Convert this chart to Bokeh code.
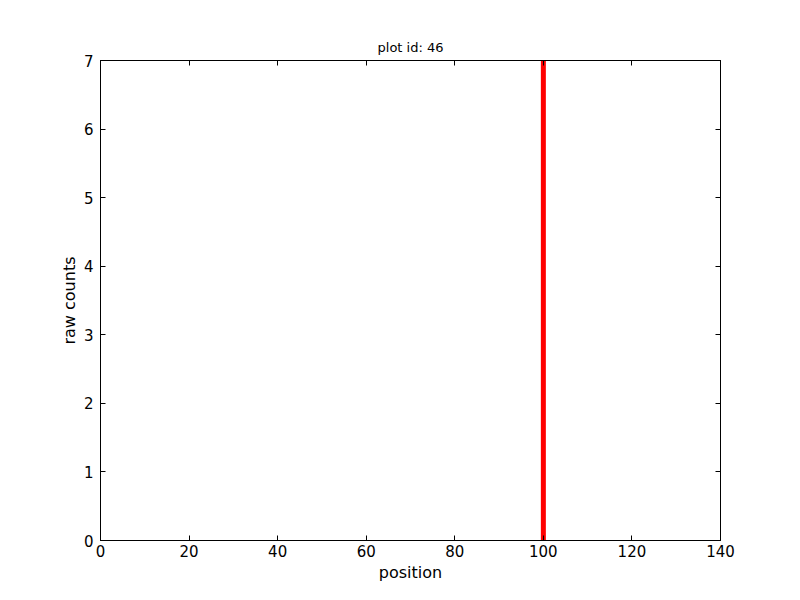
from bokeh.plotting import figure
from bokeh.models import Range1d, LinearAxis, FixedTicker
from bokeh.embed import file_html
from bokeh.resources import INLINE

positions = [100]
counts = [7]
x_ticks = [0, 20, 40, 60, 80, 100, 120, 140]
y_ticks = [0, 1, 2, 3, 4, 5, 6, 7]

p = figure(width=800, height=600, output_backend="svg", toolbar_location=None,
           x_range=Range1d(0, 140), y_range=Range1d(0, 7),
           min_border_left=100, min_border_right=80, min_border_top=60, min_border_bottom=60)
p.title.text = "plot id: 46"
p.title.align = "center"
p.title.text_font = "DejaVu Sans"
p.title.text_font_size = "13px"
p.title.text_font_style = "normal"
p.title.text_color = "black"
p.title.offset = 0
p.title.standoff = 12

p.segment(x0=positions, y0=[0]*len(positions), x1=positions, y1=counts,
          line_color="#ff0000", line_width=5)

p.xgrid.visible = False
p.ygrid.visible = False
p.outline_line_color = "black"
p.outline_line_width = 1

p.xaxis.axis_label = "position"
p.yaxis.axis_label = "raw counts"
p.xaxis.ticker = FixedTicker(ticks=x_ticks)
p.yaxis.ticker = FixedTicker(ticks=y_ticks)

for ax in [p.xaxis[0], p.yaxis[0]]:
    ax.major_tick_in = 5
    ax.major_tick_out = 0
    ax.minor_tick_in = 0
    ax.minor_tick_out = 0
    ax.axis_line_color = "black"
    ax.major_tick_line_color = "black"
    ax.major_label_text_font = "DejaVu Sans"
    ax.major_label_text_font_size = "15px"
    ax.major_label_text_color = "black"
    ax.axis_label_text_font = "DejaVu Sans"
    ax.axis_label_text_font_size = "16px"
    ax.axis_label_text_font_style = "normal"
    ax.axis_label_text_color = "black"

p.xaxis.major_label_standoff = 4
p.yaxis.major_label_standoff = 7
p.xaxis.axis_label_standoff = 3
p.yaxis.axis_label_standoff = 2

right = LinearAxis(ticker=FixedTicker(ticks=y_ticks))
top = LinearAxis(ticker=FixedTicker(ticks=x_ticks))
for ax in [right, top]:
    ax.major_tick_in = 5
    ax.major_tick_out = 0
    ax.minor_tick_in = 0
    ax.minor_tick_out = 0
    ax.major_label_text_font_size = "0px"
    ax.major_label_text_color = None
    ax.axis_line_color = "black"
p.add_layout(right, "right")
p.add_layout(top, "above")

open("out.html", "w").write(file_html(p, INLINE))
